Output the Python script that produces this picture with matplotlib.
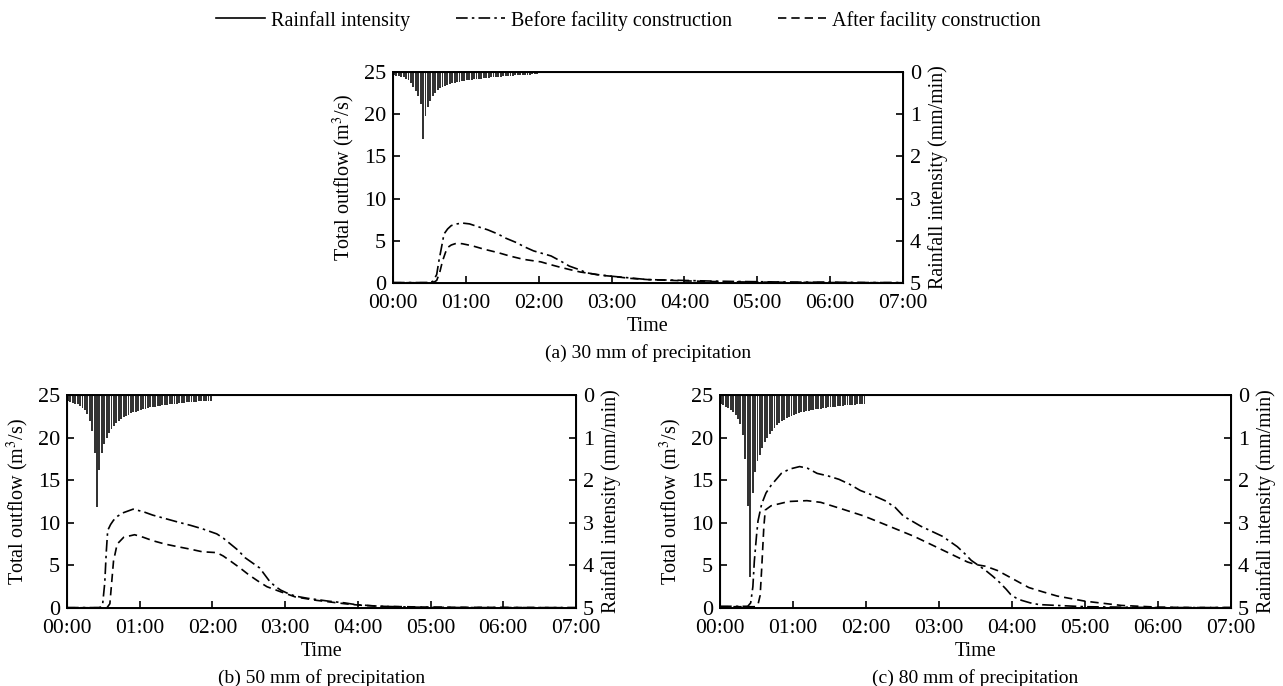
import numpy as np
import matplotlib.pyplot as plt
from matplotlib.lines import Line2D

plt.rcParams['font.family'] = ['Liberation Serif', 'DejaVu Serif']
plt.rcParams['mathtext.fontset'] = 'stix'
plt.rcParams['font.size'] = 14.5

###################### DATA ######################

# rainfall intensity (mm/min), one bar every 2 min from 00:00 to 02:00
rain_min = np.arange(0, 120, 2)

rain_a = [0.08, 0.09, 0.10, 0.11, 0.13, 0.16, 0.20, 0.26, 0.35, 0.45, 0.56, 0.75, 1.59,
          1.05, 0.82, 0.68, 0.57, 0.49, 0.43, 0.39, 0.36, 0.33, 0.31,
          0.29, 0.27, 0.255, 0.24, 0.23, 0.22, 0.21, 0.20, 0.19, 0.18,
          0.175, 0.17, 0.16, 0.155, 0.15, 0.14, 0.135, 0.13, 0.125, 0.12,
          0.115, 0.11, 0.105, 0.10, 0.095, 0.09, 0.085, 0.08, 0.077, 0.074,
          0.07, 0.067, 0.064, 0.061, 0.058, 0.055, 0.053]

rain_b = [0.14, 0.16, 0.18, 0.20, 0.22, 0.25, 0.30, 0.36, 0.45, 0.60, 0.85, 1.35, 2.63,
          1.75, 1.35, 1.15, 1.00, 0.90, 0.80, 0.72, 0.66, 0.61, 0.56,
          0.52, 0.49, 0.46, 0.43, 0.41, 0.39, 0.37, 0.35, 0.335, 0.32,
          0.305, 0.29, 0.28, 0.27, 0.26, 0.25, 0.24, 0.23, 0.225, 0.22,
          0.21, 0.205, 0.20, 0.19, 0.185, 0.18, 0.175, 0.17, 0.165, 0.16,
          0.155, 0.15, 0.147, 0.144, 0.141, 0.138, 0.135]

rain_c = [0.22, 0.24, 0.27, 0.30, 0.35, 0.41, 0.48, 0.56, 0.68, 0.95, 1.50, 2.60, 4.27,
          2.30, 1.80, 1.55, 1.40, 1.25, 1.10, 1.00, 0.91, 0.84, 0.77,
          0.71, 0.66, 0.62, 0.58, 0.55, 0.52, 0.49, 0.47, 0.45, 0.43,
          0.41, 0.39, 0.38, 0.37, 0.36, 0.35, 0.34, 0.33, 0.32, 0.31,
          0.30, 0.29, 0.28, 0.275, 0.27, 0.26, 0.255, 0.25, 0.245, 0.24,
          0.235, 0.23, 0.225, 0.22, 0.215, 0.21, 0.205]

# total outflow (m3/s), time in hours
ta_before = [0, 0.5, 0.55, 0.6, 0.63, 0.67, 0.7, 0.75, 0.8, 0.88, 0.95, 1.05, 1.19, 1.3, 1.44,
             1.55, 1.69, 1.8, 1.93, 2.05, 2.17, 2.3, 2.42, 2.55, 2.66, 2.8, 3.0, 3.25, 3.5,
             3.75, 4.0, 4.5, 5.0, 5.5, 6.0, 6.5, 7.0]
qa_before = [0.05, 0.05, 0.2, 1.0, 2.6, 4.4, 5.8, 6.4, 6.8, 7.0, 7.1, 7.0, 6.6, 6.3, 5.8,
             5.3, 4.8, 4.3, 3.8, 3.5, 3.2, 2.6, 2.0, 1.6, 1.2, 1.0, 0.8, 0.6, 0.4,
             0.35, 0.3, 0.2, 0.15, 0.1, 0.1, 0.05, 0.05]
ta_after = [0, 0.55, 0.6, 0.64, 0.68, 0.72, 0.75, 0.8, 0.87, 0.95, 1.09, 1.25, 1.44, 1.6, 1.79,
            2.03, 2.15, 2.28, 2.42, 2.57, 2.72, 2.86, 3.0, 3.25, 3.5, 4.0, 4.5, 5.0, 6.0, 7.0]
qa_after = [0.03, 0.03, 0.3, 1.2, 2.6, 3.6, 4.2, 4.5, 4.7, 4.65, 4.4, 4.0, 3.6, 3.2, 2.8,
            2.5, 2.2, 1.9, 1.6, 1.3, 1.1, 0.9, 0.8, 0.55, 0.4, 0.25, 0.15, 0.1, 0.05, 0.03]

tb_before = [0, 0.45, 0.49, 0.52, 0.54, 0.56, 0.6, 0.64, 0.7, 0.78, 0.91, 1.05, 1.18, 1.35,
             1.52, 1.7, 1.86, 2.06, 2.15, 2.25, 2.35, 2.45, 2.55, 2.65, 2.72, 2.79, 2.87,
             2.94, 3.04, 3.14, 3.3, 3.43, 3.6, 3.82, 3.97, 4.3, 4.8, 5.5, 7.0]
qb_before = [0.05, 0.05, 0.4, 3.0, 6.5, 9.1, 9.8, 10.3, 10.8, 11.2, 11.6, 11.3, 10.9, 10.5,
             10.1, 9.7, 9.3, 8.7, 8.2, 7.5, 6.8, 5.9, 5.3, 4.7, 3.9, 3.1, 2.5,
             2.1, 1.7, 1.4, 1.15, 1.0, 0.8, 0.6, 0.4, 0.2, 0.1, 0.05, 0.05]
tb_after = [0, 0.55, 0.59, 0.61, 0.64, 0.69, 0.78, 0.93, 1.05, 1.18, 1.35, 1.52, 1.7, 1.86,
            2.06, 2.15, 2.25, 2.38, 2.5, 2.62, 2.75, 2.94, 3.14, 3.43, 3.82, 4.0, 4.3, 5.0, 7.0]
qb_after = [0.03, 0.03, 0.5, 2.5, 5.5, 7.5, 8.3, 8.6, 8.3, 7.9, 7.5, 7.2, 6.9, 6.6,
            6.5, 6.1, 5.5, 4.7, 3.9, 3.2, 2.5, 1.9, 1.3, 0.9, 0.5, 0.35, 0.2, 0.1, 0.03]

tc_before = [0, 0.38, 0.42, 0.45, 0.47, 0.5, 0.52, 0.57, 0.63, 0.7, 0.78, 0.84, 0.95, 1.09,
             1.2, 1.33, 1.48, 1.63, 1.78, 1.92, 2.1, 2.26, 2.4, 2.51, 2.63, 2.75, 2.9, 3.05,
             3.15, 3.25, 3.35, 3.44, 3.54, 3.64, 3.74, 3.83, 3.92, 3.98, 4.05, 4.13, 4.25,
             4.37, 4.62, 5.0, 5.5, 6.0, 7.0]
qc_before = [0.2, 0.2, 0.6, 2.5, 5.5, 8.5, 10.2, 12.2, 13.5, 14.4, 15.2, 15.8, 16.3, 16.6,
             16.4, 15.8, 15.5, 15.1, 14.5, 13.8, 13.2, 12.6, 11.8, 10.8, 10.2, 9.6, 9.0, 8.4,
             7.8, 7.2, 6.4, 5.6, 5.0, 4.4, 3.7, 3.0, 2.2, 1.6, 1.2, 0.9, 0.6,
             0.4, 0.3, 0.15, 0.1, 0.05, 0.05]
tc_after = [0, 0.48, 0.52, 0.55, 0.57, 0.6, 0.62, 0.7, 0.94, 1.19, 1.38, 1.68, 1.97, 2.26,
            2.66, 3.05, 3.39, 3.5, 3.64, 3.8, 3.93, 4.08, 4.23, 4.42, 4.62, 5.0, 5.5, 6.0, 6.5, 7.0]
qc_after = [0.15, 0.15, 0.4, 1.5, 4.5, 9.5, 11.5, 12.0, 12.5, 12.6, 12.4, 11.6, 10.8, 9.8,
            8.4, 6.8, 5.4, 5.1, 4.9, 4.4, 3.8, 3.1, 2.4, 1.9, 1.4, 0.8, 0.3, 0.1, 0.05, 0.05]

hour_labels = ['00:00', '01:00', '02:00', '03:00', '04:00', '05:00', '06:00', '07:00']
captions = ['(a) 30 mm of precipitation', '(b) 50 mm of precipitation', '(c) 80 mm of precipitation']

DASHDOT = (0, (7, 2.5, 1.5, 2.5))
DASHED = (0, (5, 3))

###################### PLOT ######################

def draw_panel(ax, rain, t_bef, q_bef, t_aft, q_aft, caption):
    ax.plot(t_bef, q_bef, color='k', lw=1.2, ls=DASHDOT)
    ax.plot(t_aft, q_aft, color='k', lw=1.2, ls=DASHED)
    ax.set_xlim(0, 7)
    ax.set_ylim(0, 25)
    ax.set_xticks(range(8))
    ax.set_xticklabels(hour_labels)
    ax.set_yticks([0, 5, 10, 15, 20, 25])
    ax.tick_params(direction='in', length=5, width=1.2)
    ax.tick_params(axis='x', pad=8, labelsize=15.5)
    ax.tick_params(axis='y', pad=5, labelsize=16)
    ax.set_xlabel('Time', labelpad=3)
    ax.set_ylabel('Total outflow (m$^3$/s)', labelpad=5)
    for s in ax.spines.values():
        s.set_linewidth(1.4)

    ax2 = ax.twinx()
    ax2.bar(rain_min / 60, rain, width=1.55 / 60, align='edge', color='#333333', linewidth=0)
    ax2.set_ylim(5, 0)
    ax2.set_yticks([0, 1, 2, 3, 4, 5])
    ax2.tick_params(direction='in', length=5, width=1.2, labelsize=16, pad=5)
    ax2.set_ylabel('Rainfall intensity (mm/min)', labelpad=5, fontsize=14.3)
    ax.text(0.5, -0.33, caption, transform=ax.transAxes, ha='center', va='center', fontsize=14)


fig = plt.figure(figsize=(12.83, 6.86), dpi=100)
ax_a = fig.add_axes([0.3063, 0.5875, 0.3975, 0.3076])
ax_b = fig.add_axes([0.0522, 0.1137, 0.3967, 0.3105])
ax_c = fig.add_axes([0.5612, 0.1137, 0.3983, 0.3105])

draw_panel(ax_a, rain_a, ta_before, qa_before, ta_after, qa_after, captions[0])
draw_panel(ax_b, rain_b, tb_before, qb_before, tb_after, qb_after, captions[1])
draw_panel(ax_c, rain_c, tc_before, qc_before, tc_after, qc_after, captions[2])

handles = [Line2D([], [], color='k', lw=1.2),
           Line2D([], [], color='k', lw=1.2, ls=DASHDOT),
           Line2D([], [], color='k', lw=1.2, ls=DASHED)]
fig.legend(handles, ['Rainfall intensity', 'Before facility construction', 'After facility construction'],
           loc='center', bbox_to_anchor=(0.49, 0.97), ncol=3, frameon=False, fontsize=14.5,
           handlelength=2.4, handletextpad=0.3, columnspacing=2.3)

fig.savefig('out.png', dpi=100)
